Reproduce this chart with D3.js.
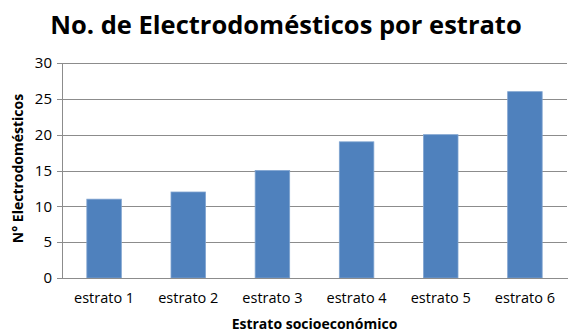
<!DOCTYPE html>
<html>
<head>
<meta charset="utf-8">
<script src="https://cdn.jsdelivr.net/npm/d3@7"></script>
<style>
  body { margin: 0; background: #fff; }
  svg text { font-family: "Open Sans", "Noto Sans", sans-serif; }
</style>
</head>
<body>
<div id="chart"></div>
<script>
// data
const categories = ['estrato 1', 'estrato 2', 'estrato 3', 'estrato 4', 'estrato 5', 'estrato 6'];
const values = [11, 12, 15, 19, 20, 26];
const yTicks = [0, 5, 10, 15, 20, 25, 30];

const W = 568, H = 333;
const margins = { top: 63, right: 1, bottom: 55, left: 62 };
const w = W - margins.left - margins.right;
const h = H - margins.top - margins.bottom;

const svg = d3.select('#chart').append('svg')
  .attr('width', W)
  .attr('height', H);

//** title
svg.append('text')
  .attr('x', 286)
  .attr('y', 34)
  .attr('text-anchor', 'middle')
  .attr('font-size', 25.5)
  .attr('font-weight', 'bold')
  .attr('fill', '#000')
  .text('No. de Electrodomésticos por estrato');

const g = svg.append('g')
  .attr('transform', 'translate(' + margins.left + ',' + margins.top + ')');

const x = d3.scaleBand()
  .domain(categories)
  .range([0, w])
  .paddingInner(0.59)
  .paddingOuter(0.295);

const y = d3.scaleLinear()
  .domain([0, 30])
  .range([h, 0]);

//** gridlines
g.append('g')
  .attr('class', 'grid')
  .call(d3.axisLeft(y).tickValues(yTicks).tickSize(-w).tickFormat(''))
  .call(s => s.select('.domain').remove())
  .selectAll('line')
  .attr('stroke', '#8c8c8c')
  .attr('shape-rendering', 'crispEdges');

//** bars
g.selectAll('.bar')
  .data(values)
  .enter().append('rect')
  .attr('class', 'bar')
  .attr('x', (d, i) => x(categories[i]))
  .attr('y', d => y(d))
  .attr('width', x.bandwidth())
  .attr('height', d => h - y(d))
  .attr('fill', '#4f81bd')
  .attr('stroke', '#7fa3d0')
  .attr('stroke-width', 0.8);

//** y axis
const yAxis = g.append('g')
  .call(d3.axisLeft(y).tickValues(yTicks).tickSize(5).tickPadding(5));
yAxis.select('.domain').attr('stroke', '#8c8c8c').attr('shape-rendering', 'crispEdges');
yAxis.selectAll('line').attr('stroke', '#8c8c8c').attr('shape-rendering', 'crispEdges');
yAxis.selectAll('text')
  .attr('font-size', 15)
  .attr('fill', '#000');

//** x axis
const xAxis = g.append('g')
  .attr('transform', 'translate(0,' + h + ')')
  .call(d3.axisBottom(x).tickSize(0).tickPadding(15));
xAxis.select('.domain').attr('stroke', '#8c8c8c').attr('shape-rendering', 'crispEdges');
xAxis.selectAll('text')
  .attr('font-size', 14.5)
  .attr('fill', '#000');

//** axis titles
svg.append('text')
  .attr('x', margins.left + w / 2)
  .attr('y', 329)
  .attr('text-anchor', 'middle')
  .attr('font-size', 14)
  .attr('font-weight', 'bold')
  .text('Estrato socioeconómico');

svg.append('text')
  .attr('transform', 'translate(23,' + (margins.top + h / 2 - 2) + ') rotate(-90)')
  .attr('text-anchor', 'middle')
  .attr('font-size', 14)
  .attr('font-weight', 'bold')
  .text('N° Electrodomésticos');
</script>
</body>
</html>
